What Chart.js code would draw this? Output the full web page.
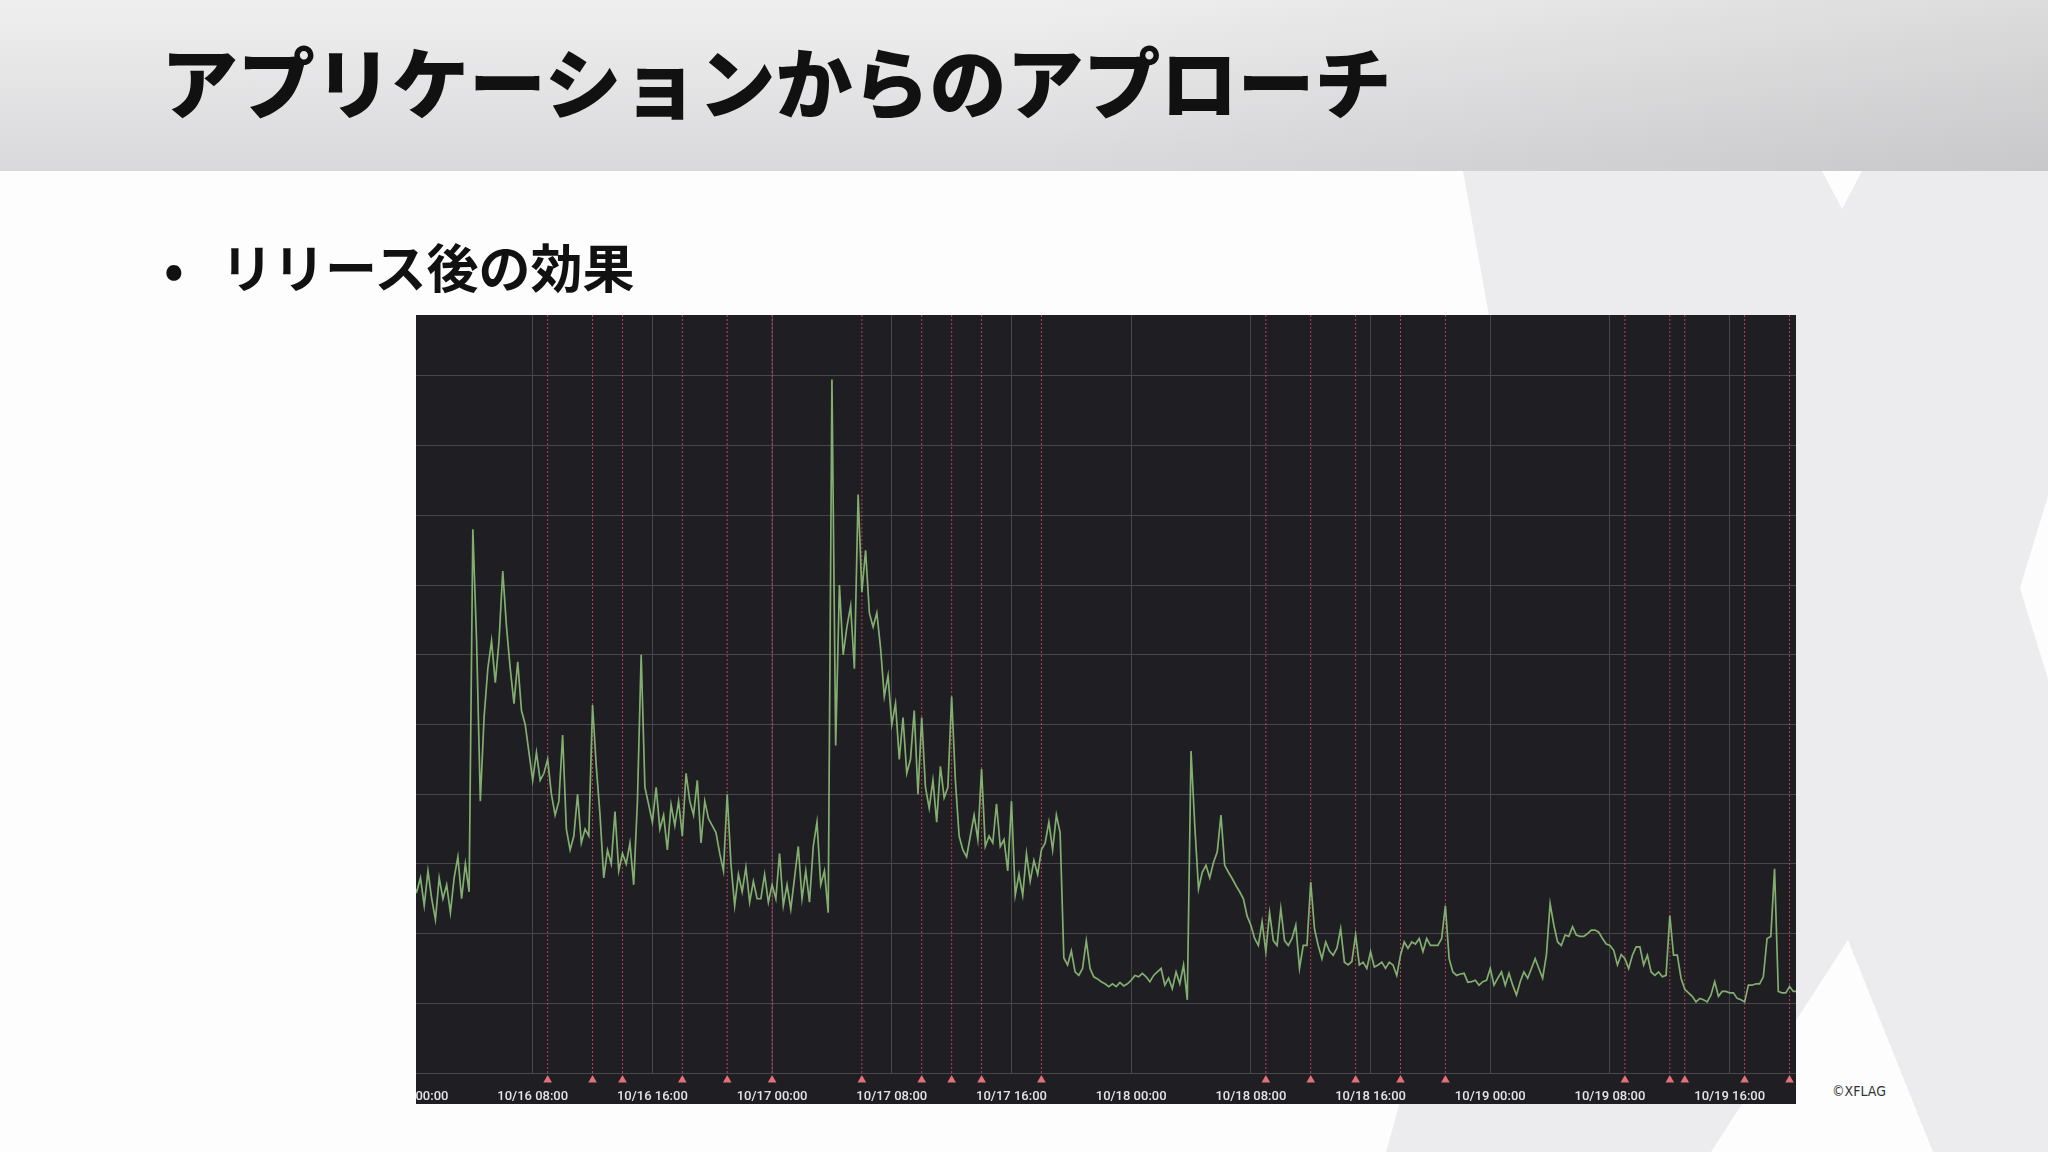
<!DOCTYPE html>
<html lang="ja">
<head>
<meta charset="utf-8">
<title>アプリケーションからのアプローチ</title>
<script src="https://cdn.jsdelivr.net/npm/chart.js@4.4.1/dist/chart.umd.min.js"></script>
<style>
  html, body { margin: 0; padding: 0; }
  body {
    width: 2048px; height: 1152px; position: relative; overflow: hidden;
    background: #fdfdfd; font-family: "Noto Sans CJK JP", sans-serif;
  }
  #mark { position: absolute; left: 0; top: 0; }
  #header {
    position: absolute; left: 0; top: 0; width: 2048px; height: 171px;
    background: linear-gradient(to bottom, #efeff0 0%, #d9d9db 100%);
  }
  #header::after {
    content: ""; position: absolute; inset: 0;
    background: linear-gradient(to right, rgba(0,0,0,0) 50%, rgba(0,0,0,0.08) 100%);
  }
  #title {
    position: absolute; left: 161px; top: 34px; margin: 0;
    font-size: 77px; line-height: 92px; font-weight: 900; color: #111;
    z-index: 2; white-space: nowrap;
  }
  #bullet {
    position: absolute; left: 164px; top: 235px; margin: 0;
    font-size: 52px; line-height: 62px; font-weight: 700; color: #111; white-space: nowrap;
  }
  #bullet .dot { display: inline-block; width: 57px; }
  #panel {
    position: absolute; left: 416px; top: 315px; width: 1380px; height: 789px;
    overflow: hidden; background: #1f1e23;
  }
  #chartBox { position: absolute; left: -3px; top: 0; width: 1384px; height: 789px; }
  #copy {
    position: absolute; left: 1832px; top: 1083px;
    font: 14px "Liberation Sans Narrow", "DejaVu Sans Condensed", sans-serif; color: #333;
  }
</style>
</head>
<body>
<svg id="mark" width="2048" height="1152">
  <polygon points="1463,171 2048,171 2048,1152 1386,1152 1540,600" fill="#ececee"/>
  <polygon points="1822,171 1862,171 1842,209" fill="#fdfdfd"/>
  <polygon points="2048,496 2020,588 2048,679" fill="#fdfdfd"/>
  <polygon points="1711,1152 1848,940 1933,1152" fill="#fdfdfd"/>
</svg>
<div id="header"></div>
<h1 id="title">アプリケーションからのアプローチ</h1>
<p id="bullet"><span class="dot">•</span>リリース後の効果</p>
<div id="panel"><div id="chartBox"><canvas id="chart"></canvas></div></div>
<div id="copy">©XFLAG</div>

<script>
// one sample every 15 minutes, starting 10/16 00:00 (hours since start)
const STEP_HOURS = 0.25;
const values = [
  27, 26, 28, 24, 29, 25, 22, 28, 25, 27, 23, 28, 31, 25, 30, 26,            // 0h
  78, 62, 39, 51, 58, 62, 56, 62, 72, 64, 58, 53, 59, 52, 50, 46,            // 4h
  42, 46, 42, 43, 45, 40, 37, 39, 48.5, 35, 32, 34, 40, 33, 35, 34,          // 8h
  52.8, 44, 37, 28, 32, 30, 37.5, 29, 31.5, 30, 33, 27, 39, 60, 41, 38.5,    // 12h
  36, 41, 35, 37, 32, 38.5, 35.5, 39, 34, 43, 39, 37, 42, 33, 39, 36.5,      // 16h
  35.5, 34.5, 31.5, 29, 40, 30, 24, 28.5, 26, 29.5, 24.5, 27.5, 25, 25, 28.5, 24.5, // 20h
  27, 25, 31.5, 24, 27, 23.5, 28, 32.5, 25, 29, 24.5, 32.5, 36, 27, 29, 23,  // 24h
  99.5, 47, 70, 60, 64, 67, 58, 83, 69, 75, 66, 64, 66, 61, 54, 57,          // 28h
  50, 53, 45, 51, 43, 45, 52, 40, 51, 41, 38, 42, 36, 44, 39.5, 41,          // 32h
  54, 42, 34, 32, 31, 34, 37, 33.5, 43.6, 32.5, 34, 33, 38.6, 32.5, 33.5, 29, // 36h
  39, 25.5, 28.5, 25.5, 31.5, 27.5, 30.5, 28.5, 32, 33, 36, 32, 37, 34.5, 16.5, 15.5, // 40h
  17.5, 14.5, 14, 15, 19, 15, 13.8, 13.5, 13.1, 12.8, 12.4, 12.8, 12.4, 13, 12.5, 12.8, // 44h
  13.3, 14, 13.8, 14.3, 13.8, 13.1, 14, 14.5, 15, 12.6, 13.6, 12.1, 14.5, 12.8, 15.5, 10.5, // 48h
  46.2, 35.5, 26.4, 28.8, 29.8, 28, 30.2, 31.7, 37, 29.8, 28.8, 27.9, 26.9, 26, 25, 22.5, // 52h
  21.2, 19.3, 18.3, 21.7, 17.4, 23, 19, 18.3, 23.6, 19, 18.3, 19.3, 21.2, 15, 18.3, 18.3, // 56h
  27.4, 20.7, 18.3, 16.4, 18.8, 17.5, 16.9, 17.9, 20.7, 15.9, 15.5, 16, 19.8, 15.5, 15.9, 15, // 60h
  17.4, 15.2, 15.5, 15.9, 15, 15.9, 15.5, 14, 16.9, 18.8, 17.9, 18.8, 18.5, 19.3, 17.4, 19.3, // 64h
  18.3, 18.3, 18.3, 19.3, 24, 16.4, 14.5, 14, 14.2, 14.3, 13, 13.1, 13.3, 12.6, 13.1, 13.3, // 68h
  15, 12.6, 13.6, 14.5, 12.6, 14.3, 12.6, 11.2, 13.1, 14.5, 13.6, 15, 16.4, 15, 13.6, 16.9, // 72h
  24.3, 21.2, 18.8, 18.3, 19.8, 19.6, 21, 19.8, 19.6, 19.6, 20, 20.5, 20.5, 20.2, 19.3, 18.5, // 76h
  18.3, 17.6, 15.5, 17, 16.4, 15, 16.9, 18.1, 18.1, 15.5, 16.9, 14.5, 14, 14.5, 13.8, 14, // 80h
  22.6, 16.9, 16.9, 13.6, 12, 11.5, 11, 10.2, 10.7, 10.5, 10.2, 11.2, 13.1, 11, 11.7, 11.7, // 84h
  11.5, 11.5, 10.7, 10.5, 10.2, 12.6, 12.6, 12.8, 12.8, 13.8, 19.3, 19.6, 29.3, 11.7, 11.5, 11.5, // 88h
  12.4, 11.7, 11.7                                                            // 92h
];

const tickHours  = [0, 8, 16, 24, 32, 40, 48, 56, 64, 72, 80, 88];
const tickLabels = ["10/16 00:00", "10/16 08:00", "10/16 16:00", "10/17 00:00",
                    "10/17 08:00", "10/17 16:00", "10/18 00:00", "10/18 08:00",
                    "10/18 16:00", "10/19 00:00", "10/19 08:00", "10/19 16:00"];
const gridValues = [0, 10, 20, 30, 40, 50, 60, 70, 80, 90, 100];
// release annotations (hours since 10/16 00:00)
const annotationHours = [9, 12, 14, 18, 21, 24, 30, 34, 36, 38, 42, 57, 60, 63, 66, 69, 81, 84, 85, 89, 92];

const X_MAX = 92.5;
const Y_MAX = 108.75;

const series = values.map((v, i) => ({ x: i * STEP_HOURS, y: v }));
const annLines = [];
annotationHours.forEach(h => {
  annLines.push({ x: h, y: 0 }, { x: h, y: Y_MAX }, { x: h, y: null });
});
// markers sit just under the time axis
const annMarks = annotationHours.map(h => ({ x: h, y: -1 }));

const gridColor = "#48474c";

new Chart(document.getElementById("chart"), {
  type: "line",
  data: {
    datasets: [
      {
        data: series, borderColor: "rgba(136,182,116,0.95)", borderWidth: 1.7,
        pointRadius: 0, tension: 0, fill: false, order: 0
      },
      {
        data: annLines, borderColor: "rgba(214,72,96,0.85)", borderWidth: 1,
        borderDash: [2, 2], pointRadius: 0, spanGaps: false, order: 2
      },
      {
        // hoverRadius widens the in-area margin so the markers below the axis get drawn
        data: annMarks, showLine: false, pointStyle: "triangle", pointRadius: 5,
        pointHoverRadius: 10, pointBackgroundColor: "#e2727a", pointBorderWidth: 0,
        clip: false, order: 1
      }
    ]
  },
  options: {
    responsive: true,
    maintainAspectRatio: false,
    animation: false,
    events: [],
    layout: { padding: 0, autoPadding: false },
    plugins: { legend: { display: false }, tooltip: { enabled: false } },
    scales: {
      x: {
        type: "linear", min: 0, max: X_MAX,
        border: { display: false },
        grid: { color: gridColor, drawTicks: false },
        ticks: {
          color: "#e4e4e6", padding: 16, maxRotation: 0, autoSkip: false,
          font: { family: "Roboto", size: 13, weight: 500 },
          callback: v => { const i = tickHours.indexOf(v); return i >= 0 ? tickLabels[i] : ""; }
        },
        afterBuildTicks: s => { s.ticks = tickHours.map(v => ({ value: v })); },
        afterFit: s => { s.paddingLeft = 0; s.paddingRight = 0; s.height = 31; }
      },
      y: {
        min: 0, max: Y_MAX,
        border: { display: false },
        grid: { color: gridColor, drawTicks: false },
        ticks: { display: false },
        afterBuildTicks: s => { s.ticks = gridValues.map(v => ({ value: v })); },
        afterFit: s => { s.width = 0; }
      }
    }
  }
});
</script>
</body>
</html>
